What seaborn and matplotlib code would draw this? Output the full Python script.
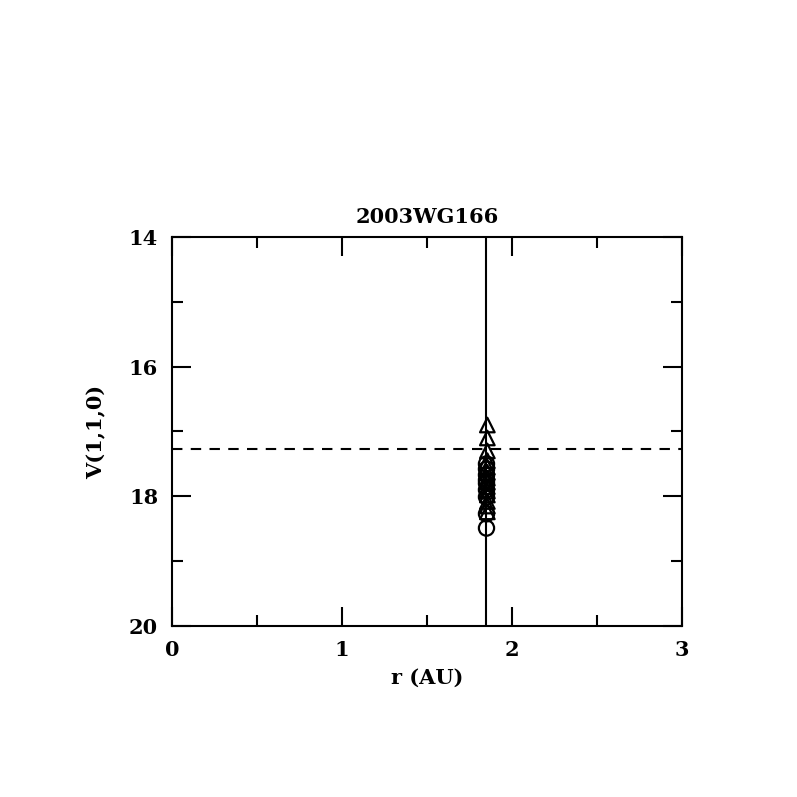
import matplotlib
matplotlib.use("Agg")
import matplotlib.pyplot as plt
import seaborn as sns
import pandas as pd
from matplotlib.ticker import MultipleLocator

sns.set_style("ticks")
plt.rcParams['font.family'] = ['DejaVu Serif']
plt.rcParams['text.color'] = 'black'
plt.rcParams['axes.labelcolor'] = 'black'
plt.rcParams['xtick.color'] = 'black'
plt.rcParams['ytick.color'] = 'black'
plt.rcParams['axes.edgecolor'] = 'black'

tri_r = [1.855] * 14
tri_v = [16.90, 17.10, 17.30, 17.45, 17.55, 17.63, 17.72, 17.78, 17.85, 17.92,
         17.98, 18.08, 18.15, 18.24]
circ_r = [1.85] * 9
circ_v = [17.50, 17.58, 17.67, 17.75, 17.80, 17.90, 18.01, 18.27, 18.49]
r_current = 1.847
v_limit = 17.27

df = pd.DataFrame({
    "r": tri_r + circ_r,
    "V": tri_v + circ_v,
    "kind": ["tri"] * len(tri_r) + ["circ"] * len(circ_r),
})

fig = plt.figure(figsize=(7.97, 7.97), dpi=100)
ax = fig.add_axes([0.2158, 0.2146, 0.6399, 0.488])

for kind, marker, size in [("tri", "^", 110), ("circ", "o", 120)]:
    sub = df[df.kind == kind]
    sns.scatterplot(data=sub, x="r", y="V", marker=marker, s=size,
                    facecolors="none", edgecolor="black", linewidth=1.6,
                    ax=ax, legend=False)

ax.axvline(r_current, color="black", lw=1.5)
ax.axhline(v_limit, color="black", lw=1.5, ls=(0, (5, 4)))

ax.set_xlim(0, 3)
ax.set_ylim(20, 14)
ax.xaxis.set_major_locator(MultipleLocator(1))
ax.xaxis.set_minor_locator(MultipleLocator(0.5))
ax.yaxis.set_major_locator(MultipleLocator(2))
ax.yaxis.set_minor_locator(MultipleLocator(1))
ax.tick_params(which="both", direction="in", top=True, right=True,
               width=1.5, labelsize=15, pad=10)
ax.tick_params(which="major", length=14)
ax.tick_params(which="minor", length=8)
for s in ax.spines.values():
    s.set_linewidth(1.5)
ax.set_xlabel("r (AU)", fontsize=15, fontweight="bold", labelpad=6)
ax.set_ylabel("V(1,1,0)", fontsize=15, fontweight="bold", labelpad=16)
ax.set_title("2003WG166", fontsize=15, fontweight="bold", pad=10)
for lab in ax.get_xticklabels() + ax.get_yticklabels():
    lab.set_fontweight("bold")

fig.savefig("out.png", dpi=100)
